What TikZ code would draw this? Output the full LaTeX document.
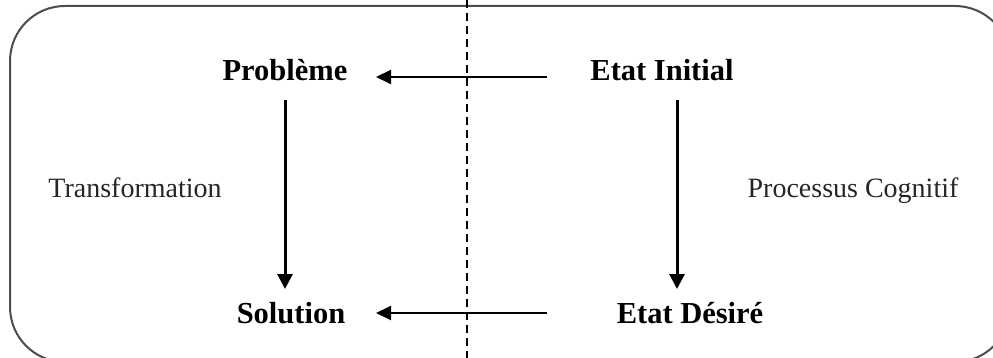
\documentclass[tikz,border=0pt]{standalone}
\usepackage{fontspec}
\setmainfont{Liberation Serif}
\usetikzlibrary{arrows.meta}
\begin{document}
\begin{tikzpicture}[x=1pt,y=-1pt,
  title/.style={font=\fontsize{30.5}{33}\selectfont\bfseries, inner sep=0pt},
  label/.style={font=\fontsize{28}{31}\selectfont, inner sep=0pt, text=black!85, anchor=base},
  harrow/.style={line width=2pt, -{Triangle[length=15pt,width=14pt]}},
  varrow/.style={line width=3pt, -{Triangle[length=15pt,width=15pt]}},
]
\useasboundingbox (0,0) rectangle (993,358);
% frame
\draw[line width=2pt, black!70, rounded corners=55pt] (10,6) rectangle (1010,362);
% dashed divider
\coordinate (dt) at (467,0);
\coordinate (db) at (467,358);
\draw[line width=1.6pt, dash pattern=on 8pt off 5pt] (dt) -- (db);
% nodes
\node[title] (prob) at (285,70) {Problème};
\node[title] (init) at (662,70) {Etat Initial};
\node[title] (sol) at (291,313) {Solution};
\node[title] (des) at (690,313) {Etat Désiré};
\node[label] (tr) at (135,197) {Transformation};
\node[label] (pc) at (853,197) {Processus Cognitif};
% connector anchor coordinates
\coordinate (a1s) at (547,77);
\coordinate (a1e) at (376,77);
\coordinate (a2s) at (547,313);
\coordinate (a2e) at (376,313);
\coordinate (v1s) at (285,100);
\coordinate (v1e) at (285,289);
\coordinate (v2s) at (677,100);
\coordinate (v2e) at (677,289);
\draw[harrow] (a1s) -- (a1e);
\draw[harrow] (a2s) -- (a2e);
\draw[varrow] (v1s) -- (v1e);
\draw[varrow] (v2s) -- (v2e);
\end{tikzpicture}
\end{document}
